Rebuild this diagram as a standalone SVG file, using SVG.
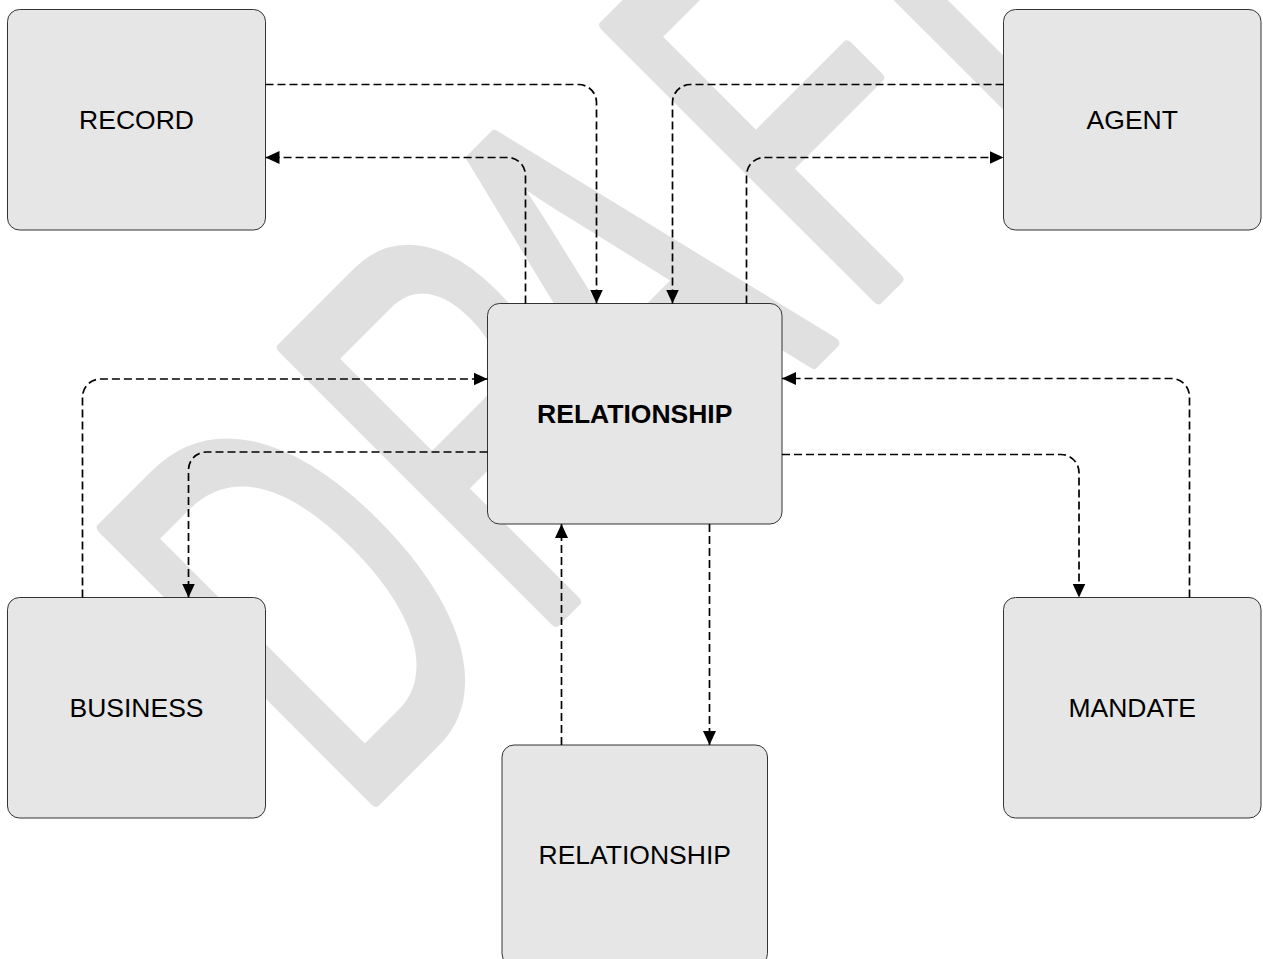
<svg xmlns="http://www.w3.org/2000/svg" width="1263" height="959" viewBox="0 0 1263 959">
  <style>
    .node rect { fill: #e6e6e6; stroke: #333; stroke-width: 1; }
    .node text { font-family: "Liberation Sans", Arial, sans-serif; font-size: 26.5px; fill: #000; text-anchor: middle; }
    .node text.bold { font-weight: bold; }
    .conn path { fill: none; stroke: #000; stroke-width: 1.7; stroke-dasharray: 8 4; marker-end: url(#arrow); }
    .wm { font-family: "Liberation Sans", Arial, sans-serif; font-size: 560px; fill: #e0e0e0; stroke: #e0e0e0; stroke-width: 12; stroke-linejoin: round; }
  </style>
  <defs>
    <marker id="arrow" markerUnits="userSpaceOnUse" markerWidth="14" markerHeight="14" viewBox="0 0 14 13" refX="14" refY="6.5" orient="auto">
      <path d="M0,0 L14,6.5 L0,13 Z" fill="#000"/>
    </marker>
  </defs>
  <rect width="1263" height="959" fill="#fff"/>

  <g id="watermark">
    <text class="wm" transform="translate(354.5,821.5) rotate(-45) scale(0.6,1)" dx="0 20 -70 52 -62">DRAFT</text>
  </g>

  <g id="node-record" class="node">
    <rect x="7.5" y="9.5" width="258" height="220.5" rx="12" ry="12"/>
    <text x="136.5" y="129">RECORD</text>
  </g>
  <g id="node-agent" class="node">
    <rect x="1003.5" y="9.5" width="257.5" height="220.5" rx="12" ry="12"/>
    <text x="1132.25" y="129">AGENT</text>
  </g>
  <g id="node-relationship-main" class="node">
    <rect x="487.5" y="303.5" width="294.5" height="220.5" rx="12" ry="12"/>
    <text class="bold" x="634.75" y="422.5">RELATIONSHIP</text>
  </g>
  <g id="node-business" class="node">
    <rect x="7.5" y="597.5" width="258" height="220.5" rx="12" ry="12"/>
    <text x="136.5" y="716.5">BUSINESS</text>
  </g>
  <g id="node-mandate" class="node">
    <rect x="1003.5" y="597.5" width="257.5" height="220.5" rx="12" ry="12"/>
    <text x="1132.25" y="716.5">MANDATE</text>
  </g>
  <g id="node-relationship-child" class="node">
    <rect x="502" y="745" width="265.5" height="220.5" rx="12" ry="12"/>
    <text x="634.75" y="863.5">RELATIONSHIP</text>
  </g>

  <g id="connectors" class="conn">
    <path d="M265.5,84.5 H578.5 A18,18 0 0 1 596.5,102.5 V303.5"/>
    <path d="M525.5,303.5 V175.5 A18,18 0 0 0 507.5,157.5 H265.5"/>
    <path d="M1003.5,84.5 H690.5 A18,18 0 0 0 672.5,102.5 V303.5"/>
    <path d="M746.5,303.5 V175.5 A18,18 0 0 1 764.5,157.5 H1003.5"/>
    <path d="M82.5,597.5 V397 A18,18 0 0 1 100.5,379 H487.5"/>
    <path d="M487.5,452 H206.5 A18,18 0 0 0 188.5,470 V597.5"/>
    <path d="M1189.5,597.5 V396.5 A18,18 0 0 0 1171.5,378.5 H782"/>
    <path d="M782,454.5 H1061 A18,18 0 0 1 1079,472.5 V597.5"/>
    <path d="M561.5,745 V524"/>
    <path d="M709.5,524 V745"/>
  </g>
</svg>
